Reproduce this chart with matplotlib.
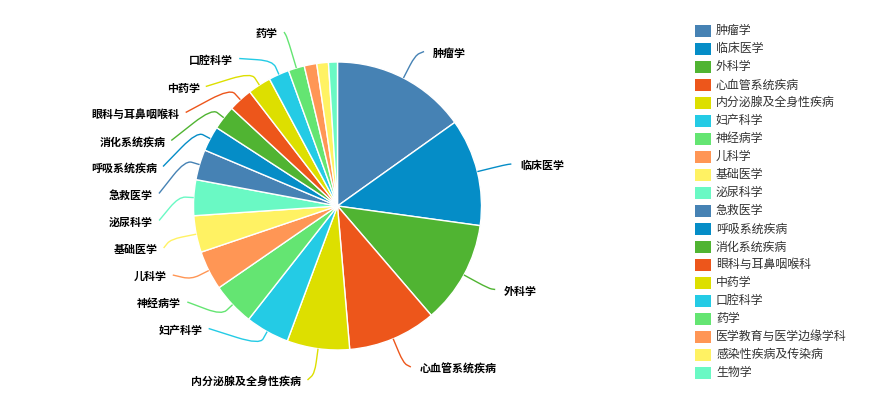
import numpy as np
import matplotlib
matplotlib.use("Agg")
import matplotlib.pyplot as plt
from matplotlib.path import Path
from matplotlib.patches import PathPatch, Rectangle

plt.rcParams['font.family'] = ['Noto Sans CJK SC', 'DejaVu Sans']

# Disciplines and their record counts
categories = ['肿瘤学', '临床医学', '外科学', '心血管系统疾病', '内分泌腺及全身性疾病',
              '妇产科学', '神经病学', '儿科学', '基础医学', '泌尿科学',
              '急救医学', '呼吸系统疾病', '消化系统疾病', '眼科与耳鼻咽喉科', '中药学',
              '口腔科学', '药学', '医学教育与医学边缘学科', '感染性疾病及传染病', '生物学']
values = [151, 120, 115, 99, 70, 49, 48, 44, 41, 40,
          34, 28, 27, 27, 26, 23, 18, 14, 13, 10]

palette = ['#4682B4', '#058DC7', '#50B432', '#ED561B', '#DDDF00',
           '#24CBE5', '#64E572', '#FF9655', '#FFF263', '#6AF9C4']
colors = [palette[i % len(palette)] for i in range(len(values))]

# Vertical placement of the outside labels (pixels from top); the three
# smallest slices carry no label.
label_line_y = [51.5, 164, 289.5, 367, 380, 328.5, 302, 275, 248, 220.5,
                193.5, 166.5, 140.5, 112.5, 86.5, 58.5, 32]

W, H = 870, 397
fig = plt.figure(figsize=(W / 100, H / 100), dpi=100)
ax = fig.add_axes([0, 0, 1, 1])

cx, cy, R = 337.5, 206.0, 144.0
wedges, _ = ax.pie(values, colors=colors, center=(cx, cy), radius=R,
                   startangle=-90, counterclock=True,
                   wedgeprops=dict(edgecolor='white', linewidth=1.0))
ax.set_xlim(0, W)
ax.set_ylim(H, 0)
ax.set_aspect('auto')
ax.axis('off')

len1 = 15.0              # minimum radial part of the leader line
ell_a, ell_b = 179.0, 176.5  # ellipse on which leader lines end
min_h = 8.0              # minimum horizontal run after the elbow
hook = 6.0               # minimum length of the final hook

for i, ly in enumerate(label_line_y):
    w = wedges[i]
    mid = np.deg2rad((w.theta1 + w.theta2) / 2.0)
    d = np.array([np.cos(mid), np.sin(mid)])
    ctr = np.array([cx, cy])
    A = ctr + R * d
    B0 = ctr + (R + len1) * d
    side = 1 if d[0] >= 0 else -1
    dy = ly - cy
    dx = ell_a * np.sqrt(max(1.0 - (dy / ell_b) ** 2, 0.0))
    dx = max(dx, abs(B0[0] - cx) + min_h)
    C = np.array([cx + side * dx, ly])

    # elbow: stretch the radial run when the label sits almost straight out
    v = C - A
    t = float(np.dot(v, d))
    perp = abs(d[0] * v[1] - d[1] * v[0])
    run = max(len1, t - max(1.2 * perp, hook))
    B = A + run * d

    q1 = B + 0.45 * (A - B)
    q2 = B + 0.45 * (C - B)
    verts = [A, q1, B, q2, C]
    codes = [Path.MOVETO, Path.LINETO, Path.CURVE3, Path.CURVE3, Path.LINETO]
    ax.add_patch(PathPatch(Path(verts, codes), facecolor='none',
                           edgecolor=colors[i], linewidth=1.0))

    gap = 9 if side > 0 else 6
    ax.text(C[0] + side * gap, ly + 2, categories[i],
            ha='left' if side > 0 else 'right', va='center',
            fontsize=7.9, fontweight='bold', color='#000000')

# Legend on the right
lx, ly0, pitch = 695, 30.8, 18.0
for i, (name, col) in enumerate(zip(categories, colors)):
    yc = ly0 + i * pitch
    ax.add_patch(Rectangle((lx, yc - 6), 16, 12, facecolor=col, edgecolor='none'))
    ax.text(lx + 21, yc, name, ha='left', va='center', fontsize=8.6, color='#333333')

fig.savefig('out.png', dpi=100)
